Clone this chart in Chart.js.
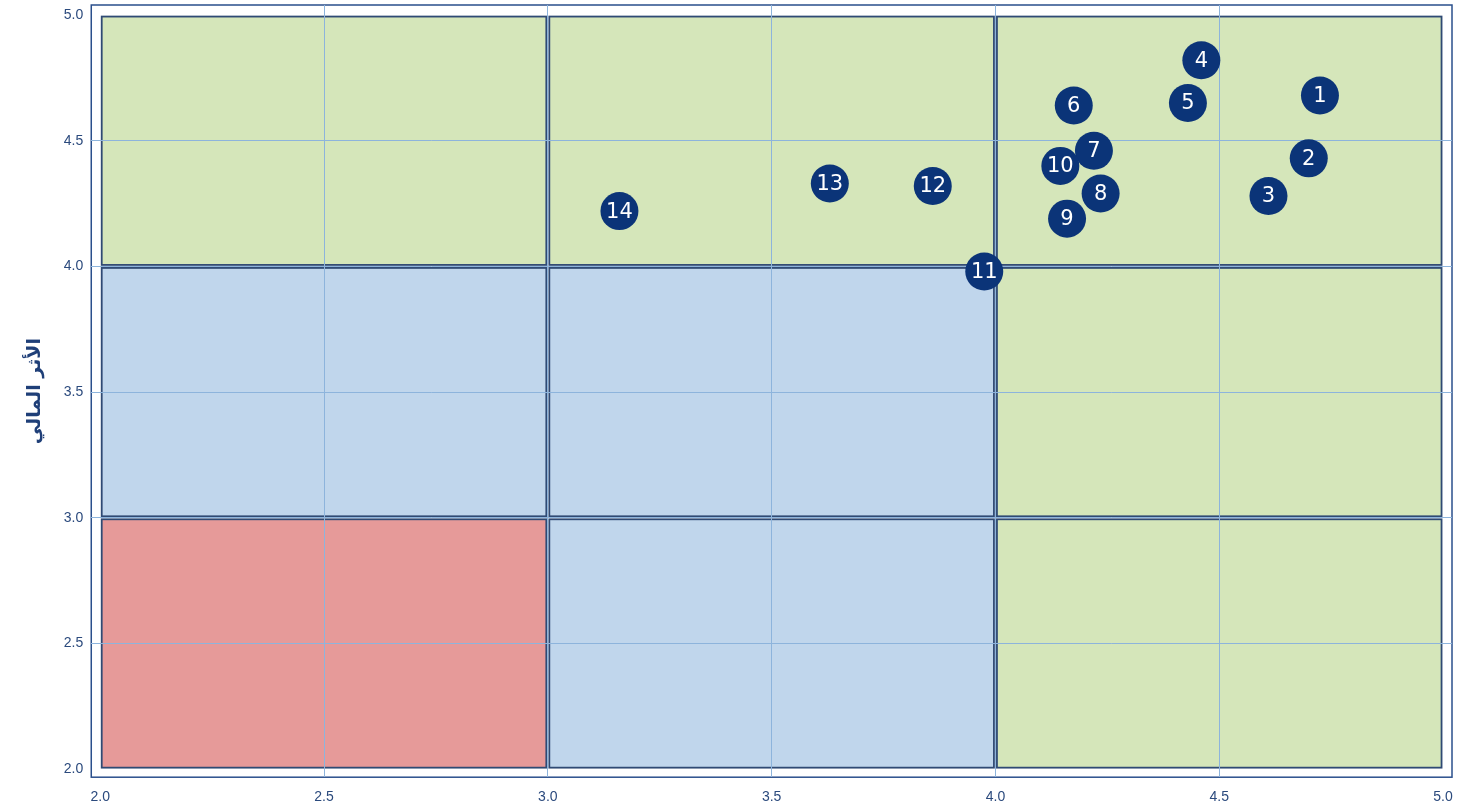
<!DOCTYPE html>
<html>
<head>
<meta charset="utf-8">
<script src="https://cdn.jsdelivr.net/npm/chart.js@4/dist/chart.umd.min.js"></script>
<style>
    html, body { margin: 0; padding: 0; background: #ffffff; }
    #wrap { width: 1461px; height: 807px; position: relative; }
</style>
</head>
<body>
<div id="wrap"><canvas id="myChart"></canvas></div>
<script>
// point numbers and their positions (x, y)
const pointLabels = ["1", "2", "3", "4", "5", "6", "7", "8", "9", "10", "11", "12", "13", "14"];
const xValues = [4.725, 4.70, 4.61, 4.46, 4.43, 4.175, 4.22, 4.235, 4.16, 4.145, 3.975, 3.86, 3.63, 3.16];
const yValues = [4.68, 4.43, 4.28, 4.82, 4.65, 4.64, 4.46, 4.29, 4.19, 4.40, 3.98, 4.32, 4.33, 4.22];

// tick labels
const tickValues = [2.0, 2.5, 3.0, 3.5, 4.0, 4.5, 5.0];

// zone grid: column and row bounds, and zone kind per [row][col] (row 0 = bottom)
const zoneCols = [[2, 3], [3, 4], [4, 5]];
const zoneRows = [[2, 3], [3, 4], [4, 5]];
const zoneKinds = [
    ["red", "blue", "green"],
    ["blue", "blue", "green"],
    ["green", "green", "green"]
];

const yTitle = "الأثر المالي";

const zoneColors = { red: "#e69a99", blue: "#c0d6ec", green: "#d5e6ba" };
const navy = "#0b3478";
const textBlue = "#2b4a7d";

// draw the coloured zones behind the grid
const zonesPlugin = {
    id: "zones",
    beforeDraw(chart) {
        const ctx = chart.ctx;
        const xs = chart.scales.x;
        const ys = chart.scales.y;
        const area = chart.chartArea;
        ctx.save();
        ctx.fillStyle = "#ffffff";
        ctx.fillRect(0, 0, chart.width, chart.height);
        for (let r = 0; r < zoneRows.length; r++) {
            for (let c = 0; c < zoneCols.length; c++) {
                const left = xs.getPixelForValue(zoneCols[c][0]) + 1.5;
                const right = xs.getPixelForValue(zoneCols[c][1]) - 1.5;
                const top = ys.getPixelForValue(zoneRows[r][1]) + 1.5;
                const bottom = ys.getPixelForValue(zoneRows[r][0]) - 1.5;
                ctx.fillStyle = zoneColors[zoneKinds[r][c]];
                ctx.fillRect(left, top, right - left, bottom - top);
                ctx.strokeStyle = "#2f4a74";
                ctx.lineWidth = 1.8;
                ctx.strokeRect(left, top, right - left, bottom - top);
            }
        }
        // outer frame of the plot
        ctx.strokeStyle = "#2a4f8c";
        ctx.lineWidth = 1.5;
        ctx.strokeRect(area.left, area.top, area.right - area.left, area.bottom - area.top);
        ctx.restore();
    }
};

// write the number on each bubble
const numbersPlugin = {
    id: "numbers",
    afterDatasetsDraw(chart) {
        const ctx = chart.ctx;
        const meta = chart.getDatasetMeta(0);
        ctx.save();
        ctx.fillStyle = "#ffffff";
        ctx.font = "21px 'DejaVu Sans'";
        ctx.textAlign = "center";
        ctx.textBaseline = "middle";
        meta.data.forEach((pt, i) => {
            ctx.fillText(pointLabels[i], pt.x, pt.y + 1);
        });
        ctx.restore();
    }
};

function gridColor(context) {
    const v = context.tick ? context.tick.value : null;
    if (v === 2 || v === 5) {
        return "rgba(0,0,0,0)";
    }
    return "#8db4dc";
}

function fixTicks(axis) {
    axis.ticks = tickValues.map(v => ({ value: v }));
}

// edge labels sit inside the plot, so no extra room is needed for them
function noEdgePadding(axis) {
    axis.paddingTop = 0;
    axis.paddingBottom = 0;
    axis.paddingLeft = 0;
    axis.paddingRight = 0;
}

let points = xValues.map((x, i) => ({ x: x, y: yValues[i] }));

let myChart = new Chart(document.getElementById("myChart"), {
    type: "scatter",
    data: {
        datasets: [{
            data: points,
            backgroundColor: navy,
            borderWidth: 0,
            pointRadius: 19,
            pointHoverRadius: 19
        }]
    },
    plugins: [zonesPlugin, numbersPlugin],
    options: {
        responsive: true,
        maintainAspectRatio: false,
        animation: false,
        events: [],
        layout: {
            autoPadding: false,
            padding: { top: 5, right: 9, bottom: -11, left: 24 }
        },
        plugins: {
            legend: { display: false },
            tooltip: { enabled: false }
        },
        scales: {
            x: {
                type: "linear",
                min: 1.98,
                max: 5.02,
                afterBuildTicks: fixTicks,
                afterFit: noEdgePadding,
                border: { display: false },
                grid: { color: gridColor, lineWidth: 1, drawTicks: false },
                ticks: {
                    color: textBlue,
                    font: { family: "'Liberation Sans'", size: 14 },
                    padding: 12,
                    callback: v => v.toFixed(1)
                }
            },
            y: {
                type: "linear",
                min: 1.968,
                max: 5.04,
                afterBuildTicks: fixTicks,
                afterFit: noEdgePadding,
                border: { display: false },
                grid: { color: gridColor, lineWidth: 1, drawTicks: false },
                ticks: {
                    color: textBlue,
                    font: { family: "'Liberation Sans'", size: 14 },
                    padding: 8,
                    callback: v => v.toFixed(1)
                },
                title: {
                    display: true,
                    text: yTitle,
                    color: "#1f3f78",
                    font: { family: "'DejaVu Sans'", size: 19, weight: "bold" },
                    padding: { top: 0, bottom: 9 }
                }
            }
        }
    }
});
</script>
</body>
</html>
